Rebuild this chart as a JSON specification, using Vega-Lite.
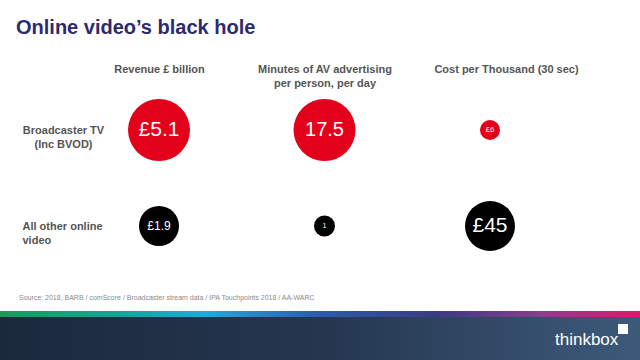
{
  "$schema": "https://vega.github.io/schema/vega-lite/v6.json",
  "width": 640,
  "height": 360,
  "autosize": {"type": "none"},
  "padding": 0,
  "background": "white",
  "title": {
    "text": "Online video’s black hole",
    "anchor": "start",
    "frame": "group",
    "font": "Liberation Sans",
    "fontSize": 20,
    "fontWeight": "bold",
    "color": "#2d2b6e",
    "baseline": "alphabetic",
    "offset": 0,
    "dx": 16,
    "dy": 54
  },
  "config": {"view": {"stroke": null}},
  "datasets": {
    "metrics": [
      {"metric": "Revenue £ billion", "category": "Broadcaster TV (Inc BVOD)", "value": 5.1, "label": "£5.1"},
      {"metric": "Revenue £ billion", "category": "All other online video", "value": 1.9, "label": "£1.9"},
      {"metric": "Minutes of AV advertising per person, per day", "category": "Broadcaster TV (Inc BVOD)", "value": 17.5, "label": "17.5"},
      {"metric": "Minutes of AV advertising per person, per day", "category": "All other online video", "value": 1, "label": "1"},
      {"metric": "Cost per Thousand (30 sec)", "category": "Broadcaster TV (Inc BVOD)", "value": 6, "label": "£6"},
      {"metric": "Cost per Thousand (30 sec)", "category": "All other online video", "value": 45, "label": "£45"}
    ],
    "notes": [
      {"source": "Source: 2018, BARB / comScore / Broadcaster stream data / IPA Touchpoints 2018 / AA-WARC", "brand": "thinkbox"}
    ]
  },
  "layer": [
    {
      "data": {"name": "metrics"},
      "transform": [{"filter": "datum.metric == 'Revenue £ billion'"}],
      "mark": {"type": "circle", "opacity": 1},
      "encoding": {
        "x": {
          "field": "metric", "type": "nominal",
          "scale": {"type": "point", "padding": 0, "domain": ["Revenue £ billion", "Minutes of AV advertising per person, per day", "Cost per Thousand (30 sec)"], "range": [159, 490]},
          "axis": {
            "orient": "top", "offset": -63, "title": null, "domain": false, "ticks": false, "tickSize": 0,
            "labelPadding": 0, "labelAngle": 0, "labelBaseline": "top", "labelLineHeight": 14,
            "labelOffset": {"condition": {"test": "datum.value == 'Cost per Thousand (30 sec)'", "value": 16}, "value": 0},
            "labelFont": "Liberation Sans", "labelFontSize": 11, "labelFontWeight": "bold", "labelColor": "#555555",
            "labelLimit": 300,
            "labelExpr": "datum.value == 'Minutes of AV advertising per person, per day' ? ['Minutes of AV advertising', 'per person, per day'] : datum.label"
          }
        },
        "y": {
          "field": "category", "type": "nominal",
          "scale": {"type": "point", "padding": 0, "domain": ["Broadcaster TV (Inc BVOD)", "All other online video"], "range": [130, 226]},
          "axis": {
            "orient": "left", "offset": -120, "title": null, "domain": false, "ticks": false, "tickSize": 0,
            "labelAlign": {"condition": {"test": "datum.value == 'All other online video'", "value": "left"}, "value": "center"},
            "labelPadding": {"condition": {"test": "datum.value == 'All other online video'", "value": 98}, "value": 57},
            "labelBaseline": "middle", "labelLineHeight": 14,
            "labelFont": "Liberation Sans", "labelFontSize": 11, "labelFontWeight": "bold", "labelColor": "#555555",
            "labelLimit": 300,
            "labelExpr": "datum.value == 'Broadcaster TV (Inc BVOD)' ? ['Broadcaster TV', '(Inc BVOD)'] : ['All other online', 'video']"
          }
        },
        "size": {"field": "value", "type": "quantitative", "scale": {"domain": [1.9, 5.1], "range": [1600, 3844]}, "legend": null},
        "color": {"field": "category", "type": "nominal", "scale": {"domain": ["Broadcaster TV (Inc BVOD)", "All other online video"], "range": ["#e2001a", "#000000"]}, "legend": null}
      }
    },
    {
      "data": {"name": "metrics"},
      "transform": [{"filter": "datum.metric == 'Minutes of AV advertising per person, per day'"}],
      "mark": {"type": "circle", "opacity": 1},
      "encoding": {
        "x": {"field": "metric", "type": "nominal"},
        "y": {"field": "category", "type": "nominal"},
        "size": {"field": "value", "type": "quantitative", "scale": {"domain": [1, 17.5], "range": [441, 3844]}, "legend": null},
        "color": {"field": "category", "type": "nominal", "legend": null}
      }
    },
    {
      "data": {"name": "metrics"},
      "transform": [{"filter": "datum.metric == 'Cost per Thousand (30 sec)'"}],
      "mark": {"type": "circle", "opacity": 1},
      "encoding": {
        "x": {"field": "metric", "type": "nominal"},
        "y": {"field": "category", "type": "nominal"},
        "size": {"field": "value", "type": "quantitative", "scale": {"domain": [6, 45], "range": [400, 2500]}, "legend": null},
        "color": {"field": "category", "type": "nominal", "legend": null}
      }
    },
    {
      "data": {"name": "metrics"},
      "transform": [{"filter": "datum.metric == 'Revenue £ billion'"}],
      "mark": {"type": "text", "font": "Liberation Sans", "color": "white", "baseline": "middle", "align": "center"},
      "encoding": {
        "x": {"field": "metric", "type": "nominal"},
        "y": {"field": "category", "type": "nominal"},
        "text": {"field": "label"},
        "size": {"field": "value", "type": "quantitative", "scale": {"domain": [1.9, 5.1], "range": [12, 21]}, "legend": null}
      }
    },
    {
      "data": {"name": "metrics"},
      "transform": [{"filter": "datum.metric == 'Minutes of AV advertising per person, per day'"}],
      "mark": {"type": "text", "font": "Liberation Sans", "color": "white", "baseline": "middle", "align": "center"},
      "encoding": {
        "x": {"field": "metric", "type": "nominal"},
        "y": {"field": "category", "type": "nominal"},
        "text": {"field": "label"},
        "size": {"field": "value", "type": "quantitative", "scale": {"domain": [1, 17.5], "range": [7, 20]}, "legend": null}
      }
    },
    {
      "data": {"name": "metrics"},
      "transform": [{"filter": "datum.metric == 'Cost per Thousand (30 sec)'"}],
      "mark": {"type": "text", "font": "Liberation Sans", "color": "white", "baseline": "middle", "align": "center"},
      "encoding": {
        "x": {"field": "metric", "type": "nominal"},
        "y": {"field": "category", "type": "nominal"},
        "text": {"field": "label"},
        "size": {"field": "value", "type": "quantitative", "scale": {"domain": [6, 45], "range": [8, 21]}, "legend": null}
      }
    },
    {
      "data": {"name": "notes"},
      "mark": {"type": "text", "font": "Liberation Sans", "fontSize": 7, "color": "#8a8a8a", "align": "left", "baseline": "middle"},
      "encoding": {"x": {"value": 19}, "y": {"value": 298}, "text": {"field": "source"}}
    },
    {
      "data": {"name": "notes"},
      "mark": {"type": "rect", "fill": {"gradient": "linear", "x1": 0, "y1": 0, "x2": 1, "y2": 0, "stops": [
        {"offset": 0, "color": "#1b293d"},
        {"offset": 0.5, "color": "#25364f"},
        {"offset": 1, "color": "#3d5a7a"}
      ]}},
      "encoding": {"x": {"value": 0}, "x2": {"value": 640}, "y": {"value": 316}, "y2": {"value": 360}}
    },
    {
      "data": {"name": "notes"},
      "mark": {"type": "rect", "fill": {"gradient": "linear", "x1": 0, "y1": 0, "x2": 1, "y2": 0, "stops": [
        {"offset": 0, "color": "#1d9a58"},
        {"offset": 0.18, "color": "#1f9f95"},
        {"offset": 0.32, "color": "#27a6dc"},
        {"offset": 0.5, "color": "#2a5cab"},
        {"offset": 0.68, "color": "#3b3a86"},
        {"offset": 0.85, "color": "#8a3e8e"},
        {"offset": 1, "color": "#e5146f"}
      ]}},
      "encoding": {"x": {"value": 0}, "x2": {"value": 640}, "y": {"value": 311}, "y2": {"value": 317}}
    },
    {
      "data": {"name": "notes"},
      "mark": {"type": "text", "font": "Liberation Sans", "fontSize": 17, "color": "white", "align": "left", "baseline": "alphabetic"},
      "encoding": {"x": {"value": 555}, "y": {"value": 345}, "text": {"field": "brand"}}
    },
    {
      "data": {"name": "notes"},
      "mark": {"type": "square", "filled": true, "color": "white", "opacity": 1, "size": 100},
      "encoding": {"x": {"value": 623}, "y": {"value": 329}}
    }
  ],
  "resolve": {"scale": {"size": "independent"}}
}
